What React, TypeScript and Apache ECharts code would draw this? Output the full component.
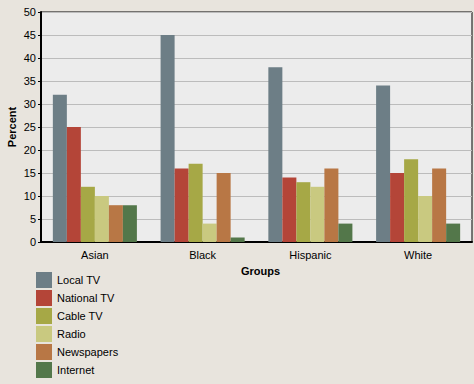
import React, { useEffect, useRef } from "react";
import * as echarts from "echarts";

const categories = ["Asian", "Black", "Hispanic", "White"];
const seriesNames = ["Local TV", "National TV", "Cable TV", "Radio", "Newspapers", "Internet"];
const localTV = [32, 45, 38, 34];
const nationalTV = [25, 16, 14, 15];
const cableTV = [12, 17, 13, 18];
const radio = [10, 4, 12, 10];
const newspapers = [8, 15, 16, 16];
const internet = [8, 1, 4, 4];
const colors = ["#6d7e86", "#b44538", "#a6a846", "#c9c980", "#b87745", "#53774a"];
const yTicks = { min: 0, max: 50, interval: 5 };

const FONT = "'Liberation Sans', Arial, sans-serif";

export default function App() {
  const ref = useRef<HTMLDivElement>(null);
  useEffect(() => {
    if (!ref.current) return;
    const chart = echarts.init(ref.current, undefined, { renderer: "svg" });
    const values = [localTV, nationalTV, cableTV, radio, newspapers, internet];
    chart.setOption({
      animation: false,
      backgroundColor: "#e8e4dd",
      textStyle: { fontFamily: FONT },
      grid: {
        left: 41,
        right: 2,
        top: 12,
        bottom: 142,
        show: true,
        backgroundColor: "#ececec",
        borderColor: "#000",
        borderWidth: 1,
        containLabel: false,
        outerBoundsMode: "none",
      },
      legend: {
        orient: "vertical",
        left: 36,
        top: 272,
        height: 112,
        padding: 0,
        itemWidth: 16,
        itemHeight: 16,
        itemGap: 2,
        icon: "rect",
        textStyle: { fontFamily: FONT, fontSize: 11, color: "#000" },
        data: seriesNames,
      },
      xAxis: {
        type: "category",
        data: categories,
        name: "Groups",
        nameLocation: "middle",
        nameGap: 23,
        nameMoveOverlap: false,
        nameTextStyle: { fontFamily: FONT, fontSize: 11, fontWeight: "bold", color: "#000", padding: [0, 0, 0, 8] },
        axisLine: { lineStyle: { color: "#000", width: 2 } },
        axisTick: { alignWithLabel: true, length: 4, lineStyle: { color: "#000" } },
        axisLabel: { fontFamily: FONT, fontSize: 11, color: "#000", margin: 7 },
        splitLine: { show: false },
      },
      yAxis: {
        type: "value",
        min: yTicks.min,
        max: yTicks.max,
        interval: yTicks.interval,
        name: "Percent",
        nameLocation: "middle",
        nameGap: 24,
        nameMoveOverlap: false,
        nameTextStyle: { fontFamily: FONT, fontSize: 11, fontWeight: "bold", color: "#000" },
        axisLine: { show: true, lineStyle: { color: "#000", width: 2 } },
        axisTick: { show: true, length: 3, lineStyle: { color: "#000" } },
        axisLabel: { fontFamily: FONT, fontSize: 11, color: "#000", margin: 5 },
        splitLine: { show: true, lineStyle: { color: "#bcbcbc", width: 1 } },
      },
      series: seriesNames.map((name, i) => ({
        name,
        type: "bar",
        data: values[i],
        barGap: "0%",
        barCategoryGap: "22%",
        itemStyle: { color: colors[i] },
      })),
    });
    return () => chart.dispose();
  }, []);
  return (
    <div
      ref={ref}
      style={{ position: "fixed", left: 0, top: 0, width: 474, height: 384 }}
    />
  );
}
